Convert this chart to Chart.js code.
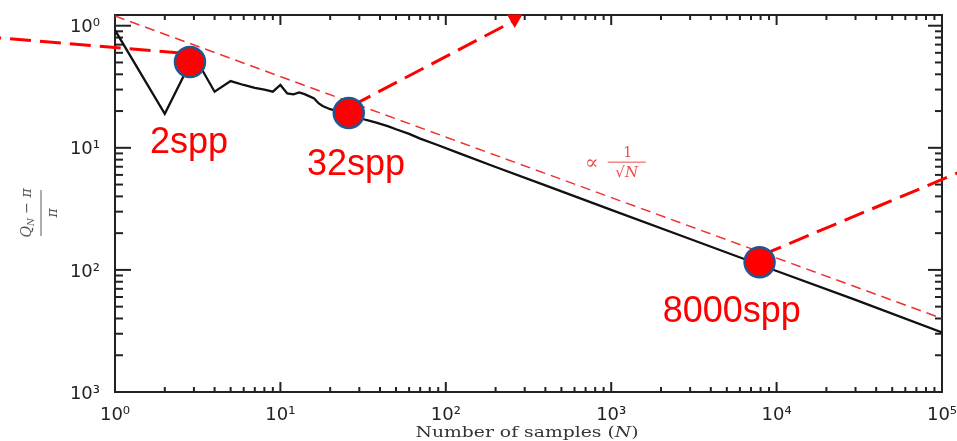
<!DOCTYPE html>
<html lang="en">
<head>
<meta charset="UTF-8">
<title>Monte Carlo convergence</title>
<script src="https://cdn.jsdelivr.net/npm/chart.js@4"></script>
<style>
  html, body { margin: 0; padding: 0; background: #fff; }
  #wrap { width: 957px; height: 441px; position: relative; }
</style>
</head>
<body>
<div id="wrap"><canvas id="chart"></canvas></div>
<script>
// relative error (Q_N - pi) / pi against number of samples N
const samples = [1, 2, 3, 4, 5, 6, 7, 8, 9, 10, 11, 12, 13, 14, 15, 16, 17, 18, 20, 21,
  26, 30, 33, 38, 45, 50, 60, 70, 90, 121, 200, 400, 1000, 3000, 10000, 30000, 100000];
const relError = [0.92, 0.19, 0.57, 0.288, 0.352, 0.327, 0.31, 0.30, 0.288, 0.327, 0.279, 0.274, 0.284, 0.275, 0.264, 0.254, 0.232, 0.22, 0.207, 0.204,
  0.186, 0.176, 0.169, 0.161, 0.150, 0.142, 0.130, 0.119, 0.105, 0.090, 0.0696, 0.0492, 0.031, 0.0179, 0.0098, 0.00568, 0.00307];

// dashed guide ~ 1/sqrt(N)
const guideN = [1, 100000];
const guideValue = [1.2, 0.0040];

// highlighted sample counts
const markerN = [2.84, 25.9, 7890];
const markerValue = [0.504, 0.1925, 0.01156];
const markerLabels = ["2spp", "32spp", "8000spp"];
const markerLabelN = [1.627, 14.46, 2047];
const markerLabelValue = [0.0905, 0.0597, 0.00373];

// call-out lines running off the plot
const calloutLeftN = [0.153, 2.65];
const calloutLeftValue = [0.819, 0.594];
const calloutUpN = [27.0, 261];
const calloutUpValue = [0.2205, 1.105];
const calloutRightN = [8115, 157000];
const calloutRightValue = [0.0132, 0.0711];
const arrowHeadN = [261];
const arrowHeadValue = [1.135];

const guideLabelN = 1241;
const guideLabelValue = 0.0763;

const xTicks = [1, 10, 100, 1000, 10000, 100000];
const xTickLabels = ["10⁰", "10¹", "10²", "10³", "10⁴", "10⁵"];
const yTicks = [0.001, 0.01, 0.1, 1];
const yTickLabels = ["10³", "10²", "10¹", "10⁰"];

const pts = (xs, ys) => xs.map((x, i) => ({ x: x, y: ys[i] }));

// keep the plot box fixed, labels may hang over the edge
const noEdgePadding = (s) => {
  s.paddingLeft = 0; s.paddingRight = 0; s.paddingTop = 0; s.paddingBottom = 0;
};

const frame = {
  id: "frame",
  beforeDatasetsDraw(chart) {
    const { ctx, chartArea: a, scales: { x, y } } = chart;
    ctx.save();
    ctx.strokeStyle = "#222";
    ctx.lineWidth = 2;
    ctx.strokeRect(a.left, a.top, a.right - a.left, a.bottom - a.top);
    const tick = (x1, y1, x2, y2) => { ctx.beginPath(); ctx.moveTo(x1, y1); ctx.lineTo(x2, y2); ctx.stroke(); };
    for (let d = 0; d < 5; d++) {
      for (let m = 1; m <= 9; m++) {
        const px = x.getPixelForValue(m * Math.pow(10, d));
        const major = m === 1;
        if (px <= a.left + 1) continue;
        tick(px, a.bottom, px, a.bottom - (major ? 10 : 5));
        tick(px, a.top, px, a.top + (major ? 10 : 5));
      }
    }
    for (let d = -3; d <= 0; d++) {
      for (let m = 1; m <= 9; m++) {
        const v = m * Math.pow(10, d);
        if (v > y.max) continue;
        const py = y.getPixelForValue(v);
        const major = m === 1;
        if (py >= a.bottom - 1) continue;
        tick(a.left, py, a.left + (major ? 16 : 8), py);
        tick(a.right, py, a.right - (major ? 14 : 7), py);
      }
    }
    ctx.restore();
  },
  afterDatasetsDraw(chart) {
    const { ctx, scales: { x, y } } = chart;
    ctx.save();
    // marker labels
    ctx.fillStyle = "#ff0000";
    ctx.font = '36px "Liberation Sans", Arial, sans-serif';
    ctx.textAlign = "left";
    ctx.textBaseline = "alphabetic";
    markerLabels.forEach((t, i) => {
      ctx.fillText(t, x.getPixelForValue(markerLabelN[i]), y.getPixelForValue(markerLabelValue[i]));
    });

    // proportional-to 1/sqrt(N) label
    const gx = x.getPixelForValue(guideLabelN);
    const gy = y.getPixelForValue(guideLabelValue);
    ctx.fillStyle = "#f04a4a";
    ctx.strokeStyle = "#f04a4a";
    ctx.textAlign = "center";
    ctx.font = '20px "DejaVu Serif", serif';
    ctx.fillText("∝", gx - 35, gy + 7);
    ctx.font = '14px "DejaVu Serif", serif';
    ctx.fillText("1", gx + 1, gy - 5);
    ctx.lineWidth = 1;
    ctx.beginPath(); ctx.moveTo(gx - 19, gy); ctx.lineTo(gx + 19, gy); ctx.stroke();
    ctx.font = 'italic 15px "DejaVu Serif", serif';
    ctx.fillText("√N", gx, gy + 15);

    // x axis title
    ctx.fillStyle = "#333";
    ctx.textAlign = "left";
    ctx.font = '14px "DejaVu Serif", serif';
    const t1 = "Number of samples (";
    const w1 = ctx.measureText(t1).width;
    ctx.font = 'italic 14px "DejaVu Serif", serif';
    const w2 = ctx.measureText("N").width;
    ctx.font = '14px "DejaVu Serif", serif';
    const w3 = ctx.measureText(")").width;
    const total = w1 + w2 + w3;
    const sx = 223 / total;
    ctx.save();
    ctx.translate(527 - 223 / 2, 437);
    ctx.scale(sx, 1);
    ctx.fillText(t1, 0, 0);
    ctx.font = 'italic 14px "DejaVu Serif", serif';
    ctx.fillText("N", w1, 0);
    ctx.font = '14px "DejaVu Serif", serif';
    ctx.fillText(")", w1 + w2, 0);
    ctx.restore();

    // y axis title as a fraction
    ctx.save();
    ctx.translate(41, 213);
    ctx.rotate(-Math.PI / 2);
    ctx.strokeStyle = "#777";
    ctx.lineWidth = 1.2;
    ctx.beginPath(); ctx.moveTo(-23, 0); ctx.lineTo(23, 0); ctx.stroke();
    ctx.fillStyle = "#555";
    ctx.textAlign = "left";
    const f1 = 'italic 14px "DejaVu Serif", serif';
    const f2 = 'italic 9px "DejaVu Serif", serif';
    ctx.font = f1; const q = ctx.measureText("Q").width;
    ctx.font = f2; const n = ctx.measureText("N").width;
    ctx.font = f1; const r = ctx.measureText(" − π").width;
    let px = -(q + n + r) / 2;
    ctx.font = f1; ctx.fillText("Q", px, -10); px += q;
    ctx.font = f2; ctx.fillText("N", px, -7); px += n;
    ctx.font = f1; ctx.fillText(" − π", px, -10);
    ctx.textAlign = "center";
    ctx.fillText("π", 0, 16);
    ctx.restore();
    ctx.restore();
  }
};

new Chart(document.getElementById("chart"), {
  type: "scatter",
  data: {
    datasets: [
      {
        data: pts(markerN, markerValue),
        pointRadius: 15,
        pointHoverRadius: 15,
        backgroundColor: "#ff0000",
        borderColor: "#1f5796",
        borderWidth: 2.5,
        clip: false,
        order: 0
      },
      {
        data: pts(arrowHeadN, arrowHeadValue),
        pointStyle: "triangle",
        rotation: 180,
        pointRadius: 9,
        backgroundColor: "#ff0000",
        borderColor: "#ff0000",
        borderWidth: 0,
        clip: false,
        order: 1
      },
      {
        data: pts(calloutLeftN, calloutLeftValue),
        showLine: true, pointRadius: 0,
        borderColor: "#ff0000", borderWidth: 3, borderDash: [21, 9],
        clip: false, order: 1
      },
      {
        data: pts(calloutUpN, calloutUpValue),
        showLine: true, pointRadius: 0,
        borderColor: "#ff0000", borderWidth: 3, borderDash: [21, 9],
        clip: false, order: 1
      },
      {
        data: pts(calloutRightN, calloutRightValue),
        showLine: true, pointRadius: 0,
        borderColor: "#ff0000", borderWidth: 3, borderDash: [21, 9],
        clip: false, order: 1
      },
      {
        data: pts(guideN, guideValue),
        showLine: true, pointRadius: 0,
        borderColor: "#f03030", borderWidth: 1.5, borderDash: [10, 6],
        order: 2
      },
      {
        data: pts(samples, relError),
        showLine: true, pointRadius: 0,
        borderColor: "#111", borderWidth: 2.3,
        tension: 0,
        order: 3
      }
    ]
  },
  options: {
    responsive: true,
    maintainAspectRatio: false,
    animation: false,
    events: [],
    layout: { autoPadding: false, padding: { left: 0, top: 15, right: 15, bottom: 0 } },
    plugins: { legend: { display: false }, tooltip: { enabled: false } },
    scales: {
      x: {
        type: "logarithmic",
        min: 1,
        max: 100000,
        grid: { display: false },
        border: { display: false },
        afterBuildTicks: (s) => { s.ticks = xTicks.map(v => ({ value: v })); },
        afterFit: (s) => { s.height = 49; noEdgePadding(s); },
        ticks: {
          autoSkip: false,
          maxRotation: 0,
          padding: 5,
          color: "#222",
          font: { family: '"DejaVu Sans", sans-serif', size: 18 },
          callback: (v, i) => xTickLabels[i]
        }
      },
      y: {
        type: "logarithmic",
        min: 0.001,
        max: 1.224,
        grid: { display: false },
        border: { display: false },
        afterBuildTicks: (s) => { s.ticks = yTicks.map(v => ({ value: v })); },
        afterFit: (s) => { s.width = 115; noEdgePadding(s); },
        ticks: {
          autoSkip: false,
          padding: 7,
          labelOffset: 2,
          color: "#222",
          font: { family: '"DejaVu Sans", sans-serif', size: 18 },
          callback: (v, i) => yTickLabels[i]
        }
      }
    }
  },
  plugins: [frame]
});
</script>
</body>
</html>
